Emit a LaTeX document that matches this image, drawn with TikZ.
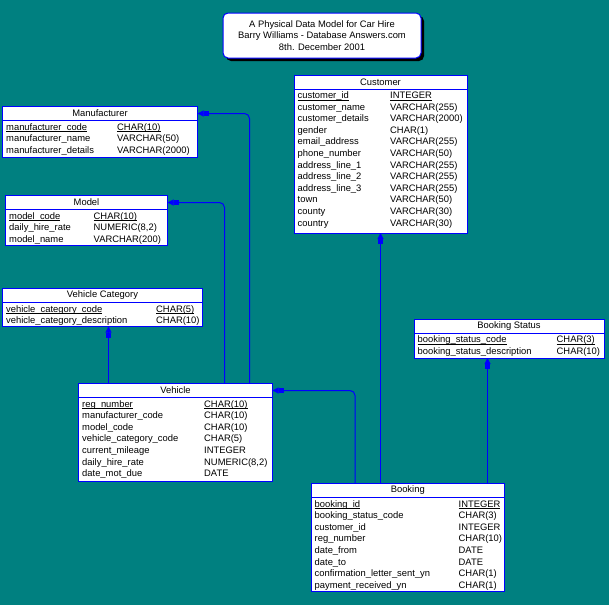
\documentclass[tikz,border=0pt]{standalone}
\usepackage{fontspec}
\setmainfont{Liberation Sans}
\usetikzlibrary{arrows.meta}
\usetikzlibrary{shadows}

\definecolor{erdteal}{RGB}{0,128,128}
\definecolor{erdblue}{RGB}{0,0,255}

% primary key columns are underlined
\newcommand{\pkey}[1]{\setbox0\hbox{#1}\rlap{\rule[-1.8pt]{\wd0}{0.8pt}}\box0}

\begin{document}
\begin{tikzpicture}[
  x=1pt, y=-1pt,
  erdfont/.style={font=\fontsize{9.4}{11.6}\selectfont},
  tblhead/.style={
    draw=erdblue,
    line width=1pt,
    fill=white,
    rectangle,
    anchor=north west,
    inner sep=0pt,
    outer sep=0pt,
    minimum height=14pt,
    erdfont
  },
  tblbody/.style={
    tblhead,
    minimum height=#1
  },
  field/.style={
    anchor=base west,
    inner sep=0pt,
    erdfont
  },
  titlebox/.style={
    draw=erdblue,
    line width=1pt,
    fill=white,
    rounded corners=5pt,
    minimum width=198pt,
    minimum height=45pt,
    align=center,
    drop shadow={shadow xshift=3pt, shadow yshift=-3pt, fill=black, opacity=1},
    erdfont
  },
  fk/.style={
    draw=erdblue,
    line width=1pt,
    rounded corners=5pt,
    -{Rectangle[length=5pt,width=5pt]Triangle[length=6pt,width=6pt]}
  }
]

\fill[erdteal] (0,0) rectangle (609,605);
\useasboundingbox (0,0) rectangle (609,605);

% Title
\node[titlebox] (title) at (322,35.5) {A Physical Data Model for Car Hire\\Barry Williams - Database Answers.com\\8th. December 2001};

% Customer
\node[tblhead, minimum width=173pt] (customer-head) at (294,75) {Customer};
\node[tblbody=144pt, minimum width=173pt] (customer-body) at (customer-head.south west) {};
\foreach \f/\t [count=\i] in {customer\_id/INTEGER, customer\_name/VARCHAR(255),
  customer\_details/VARCHAR(2000), gender/CHAR(1), email\_address/VARCHAR(255),
  phone\_number/VARCHAR(50), address\_line\_1/VARCHAR(255), address\_line\_2/VARCHAR(255),
  address\_line\_3/VARCHAR(255), town/VARCHAR(50), county/VARCHAR(30), country/VARCHAR(30)}{
  \node[field] (customer-f\i) at ([xshift=3.5pt,yshift=-9.5pt-(\i-1)*11.6pt]customer-body.north west) {\ifnum\i=1 \pkey{\f}\else\f\fi};
  \node[field] (customer-t\i) at ([xshift=96pt,yshift=-9.5pt-(\i-1)*11.6pt]customer-body.north west) {\ifnum\i=1 \pkey{\t}\else\t\fi};
}

% Manufacturer
\node[tblhead, minimum width=195pt] (manufacturer-head) at (2.5,106.5) {Manufacturer};
\node[tblbody=36.5pt, minimum width=195pt] (manufacturer-body) at (manufacturer-head.south west) {};
\foreach \f/\t [count=\i] in {manufacturer\_code/CHAR(10), manufacturer\_name/VARCHAR(50),
  manufacturer\_details/VARCHAR(2000)}{
  \node[field] (manufacturer-f\i) at ([xshift=3.5pt,yshift=-9.5pt-(\i-1)*11.6pt]manufacturer-body.north west) {\ifnum\i=1 \pkey{\f}\else\f\fi};
  \node[field] (manufacturer-t\i) at ([xshift=114.5pt,yshift=-9.5pt-(\i-1)*11.6pt]manufacturer-body.north west) {\ifnum\i=1 \pkey{\t}\else\t\fi};
}

% Model
\node[tblhead, minimum width=162pt] (model-head) at (5.5,195.5) {Model};
\node[tblbody=36pt, minimum width=162pt] (model-body) at (model-head.south west) {};
\foreach \f/\t [count=\i] in {model\_code/CHAR(10), daily\_hire\_rate/{NUMERIC(8,2)},
  model\_name/VARCHAR(200)}{
  \node[field] (model-f\i) at ([xshift=3.5pt,yshift=-9.5pt-(\i-1)*11.6pt]model-body.north west) {\ifnum\i=1 \pkey{\f}\else\f\fi};
  \node[field] (model-t\i) at ([xshift=88pt,yshift=-9.5pt-(\i-1)*11.6pt]model-body.north west) {\ifnum\i=1 \pkey{\t}\else\t\fi};
}

% Vehicle Category
\node[tblhead, minimum width=200pt] (vcat-head) at (2.5,288.5) {Vehicle Category};
\node[tblbody=24pt, minimum width=200pt] (vcat-body) at (vcat-head.south west) {};
\foreach \f/\t [count=\i] in {vehicle\_category\_code/CHAR(5), vehicle\_category\_description/CHAR(10)}{
  \node[field] (vcat-f\i) at ([xshift=3.5pt,yshift=-9.5pt-(\i-1)*11.6pt]vcat-body.north west) {\ifnum\i=1 \pkey{\f}\else\f\fi};
  \node[field] (vcat-t\i) at ([xshift=153.5pt,yshift=-9.5pt-(\i-1)*11.6pt]vcat-body.north west) {\ifnum\i=1 \pkey{\t}\else\t\fi};
}

% Booking Status
\node[tblhead, minimum width=190pt] (bstatus-head) at (414,319) {Booking Status};
\node[tblbody=25pt, minimum width=190pt] (bstatus-body) at (bstatus-head.south west) {};
\foreach \f/\t [count=\i] in {booking\_status\_code/CHAR(3), booking\_status\_description/CHAR(10)}{
  \node[field] (bstatus-f\i) at ([xshift=3.5pt,yshift=-9.5pt-(\i-1)*11.6pt]bstatus-body.north west) {\ifnum\i=1 \pkey{\f}\else\f\fi};
  \node[field] (bstatus-t\i) at ([xshift=142.5pt,yshift=-9.5pt-(\i-1)*11.6pt]bstatus-body.north west) {\ifnum\i=1 \pkey{\t}\else\t\fi};
}

% Vehicle
\node[tblhead, minimum width=194pt] (vehicle-head) at (78.5,383.5) {Vehicle};
\node[tblbody=83.5pt, minimum width=194pt] (vehicle-body) at (vehicle-head.south west) {};
\foreach \f/\t [count=\i] in {reg\_number/CHAR(10), manufacturer\_code/CHAR(10),
  model\_code/CHAR(10), vehicle\_category\_code/CHAR(5), current\_mileage/INTEGER,
  daily\_hire\_rate/{NUMERIC(8,2)}, date\_mot\_due/DATE}{
  \node[field] (vehicle-f\i) at ([xshift=3.5pt,yshift=-9.5pt-(\i-1)*11.6pt]vehicle-body.north west) {\ifnum\i=1 \pkey{\f}\else\f\fi};
  \node[field] (vehicle-t\i) at ([xshift=125.5pt,yshift=-9.5pt-(\i-1)*11.6pt]vehicle-body.north west) {\ifnum\i=1 \pkey{\t}\else\t\fi};
}

% Booking
\node[tblhead, minimum width=193.5pt] (booking-head) at (311,483.5) {Booking};
\node[tblbody=94pt, minimum width=193.5pt] (booking-body) at (booking-head.south west) {};
\foreach \f/\t [count=\i] in {booking\_id/INTEGER, booking\_status\_code/CHAR(3),
  customer\_id/INTEGER, reg\_number/CHAR(10), date\_from/DATE, date\_to/DATE,
  confirmation\_letter\_sent\_yn/CHAR(1), payment\_received\_yn/CHAR(1)}{
  \node[field] (booking-f\i) at ([xshift=3.5pt,yshift=-9.5pt-(\i-1)*11.6pt]booking-body.north west) {\ifnum\i=1 \pkey{\f}\else\f\fi};
  \node[field] (booking-t\i) at ([xshift=147.5pt,yshift=-9.5pt-(\i-1)*11.6pt]booking-body.north west) {\ifnum\i=1 \pkey{\t}\else\t\fi};
}

% Foreign keys
\coordinate (vh-manu) at ([xshift=-23pt]vehicle-head.north east);
\coordinate (vh-model) at ([xshift=-48pt]vehicle-head.north east);
\coordinate (vh-vcat) at ([xshift=30pt]vehicle-head.north west);
\coordinate (bk-vehicle) at ([xshift=44pt]booking-head.north west);
\coordinate (bk-status) at ([xshift=-17pt]booking-head.north east);

\draw[fk] (vh-manu) |- (manufacturer-head.east);
\draw[fk] (vh-model) |- (model-head.east);
\draw[fk] (vh-vcat) -- (vh-vcat |- vcat-body.south);
\draw[fk] (bk-vehicle) |- (vehicle-head.east);
\draw[fk] (customer-body.south |- booking-head.north) -- (customer-body.south);
\draw[fk] (bk-status) -- (bk-status |- bstatus-body.south);
\end{tikzpicture}
\end{document}
